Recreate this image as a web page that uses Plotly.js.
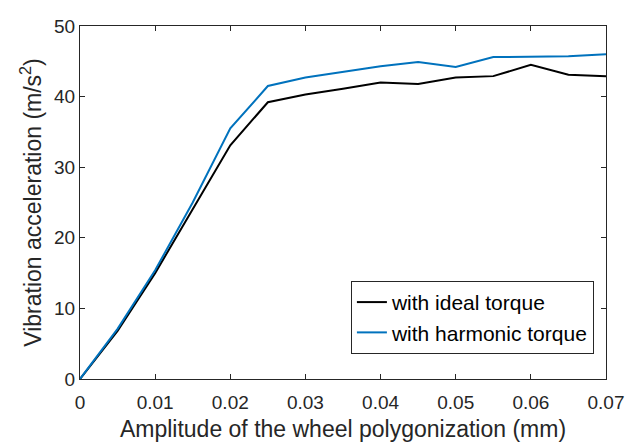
<!DOCTYPE html>
<html><head><meta charset="utf-8">
<script src="https://cdn.plot.ly/plotly-3.0.1.min.js"></script>
<style>html,body{margin:0;padding:0;background:#fff}#plot{width:641px;height:447px}</style>
</head><body><div id="plot"></div>
<script>
var amplitude = [0, 0.005, 0.01, 0.015, 0.02, 0.025, 0.03, 0.035, 0.04, 0.045, 0.05, 0.055, 0.06, 0.065, 0.07];
var idealTorque = [0, 6.8, 15.0, 24.0, 33.1, 39.2, 40.3, 41.1, 42.0, 41.8, 42.7, 42.9, 44.5, 43.1, 42.9];
var harmonicTorque = [0, 7.1, 15.4, 25.0, 35.5, 41.5, 42.7, 43.5, 44.3, 44.9, 44.2, 45.6, 45.6, 45.7, 46.0];
var seriesNames = ["with ideal torque", "with harmonic torque"];
var xTicks = [0, 0.01, 0.02, 0.03, 0.04, 0.05, 0.06, 0.07];
var xTickText = ["0", "0.01", "0.02", "0.03", "0.04", "0.05", "0.06", "0.07"];
var yTicks = [0, 10, 20, 30, 40, 50];

var font = "Liberation Sans, Arial, Helvetica, sans-serif";
var traces = [
  {x: amplitude, y: idealTorque, name: seriesNames[0], mode: "lines", line: {color: "#000000", width: 2}},
  {x: amplitude, y: harmonicTorque, name: seriesNames[1], mode: "lines", line: {color: "#0072BD", width: 2}}
];
var axisCommon = {
  showgrid: false, zeroline: false, showline: true, mirror: "ticks",
  linecolor: "#262626", linewidth: 1, ticks: "inside", ticklen: 5, tickcolor: "#262626",
  tickfont: {family: font, size: 19, color: "#262626"}, automargin: false
};
var layout = {
  width: 641, height: 447,
  margin: {l: 80, r: 35, t: 26, b: 68},
  paper_bgcolor: "#ffffff", plot_bgcolor: "#ffffff",
  showlegend: true,
  legend: {x: 0.977, y: 0.071, xanchor: "right", yanchor: "bottom",
    bgcolor: "#ffffff", bordercolor: "#262626", borderwidth: 1, tracegroupgap: 0,
    font: {family: font, size: 21, color: "#000000"}},
  xaxis: Object.assign({}, axisCommon, {range: [0, 0.07], tickvals: xTicks, ticktext: xTickText,
    ticklabelstandoff: 6,
    title: {text: "Amplitude of the wheel polygonization (mm)", font: {family: font, size: 23, color: "#262626"}, standoff: 9}}),
  yaxis: Object.assign({}, axisCommon, {range: [0, 50], tickvals: yTicks,
    title: {text: "Vibration acceleration (m/s<sup>2</sup>)", font: {family: font, size: 23, color: "#262626"}, standoff: 6}})
};
Plotly.newPlot("plot", traces, layout, {staticPlot: true, displayModeBar: false});
</script></body></html>
